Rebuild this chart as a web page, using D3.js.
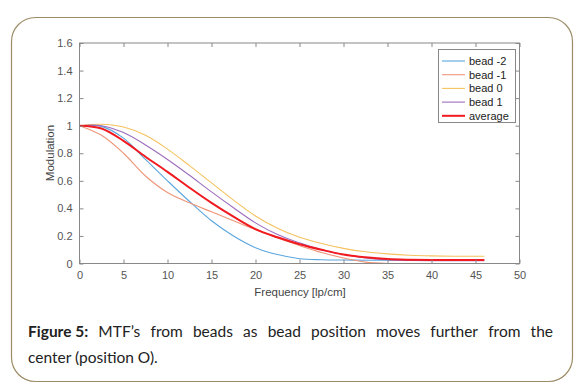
<!DOCTYPE html>
<html><head><meta charset="utf-8">
<script src="https://cdn.jsdelivr.net/npm/d3@7"></script>
<style>body{margin:0;background:#fff}svg{display:block}</style>
</head><body>
<svg id="c" width="584" height="391"></svg>
<script>
const freq = [0, 2.5, 5, 7.5, 10, 12.5, 15, 17.5, 20, 22.5, 25, 27.5, 30, 32.5, 35, 37.5, 40, 42.5, 45, 46];
const beadM2 = [1, 0.995, 0.91, 0.755, 0.60, 0.45, 0.31, 0.20, 0.115, 0.065, 0.035, 0.027, 0.025, 0.024, 0.024, 0.024, 0.024, 0.024, 0.024, 0.024];
const beadM1 = [1, 0.93, 0.80, 0.635, 0.515, 0.44, 0.375, 0.31, 0.245, 0.185, 0.13, 0.08, 0.04, 0.01, 0, 0, 0, 0, 0, 0];
const bead0 = [1, 1.01, 0.99, 0.93, 0.83, 0.71, 0.585, 0.46, 0.345, 0.255, 0.19, 0.145, 0.11, 0.085, 0.07, 0.06, 0.055, 0.053, 0.053, 0.053];
const bead1 = [1, 1.0, 0.95, 0.86, 0.755, 0.64, 0.52, 0.405, 0.295, 0.21, 0.15, 0.10, 0.065, 0.04, 0.027, 0.022, 0.02, 0.02, 0.02, 0.02];
const average = [1, 0.98, 0.89, 0.775, 0.665, 0.55, 0.44, 0.34, 0.25, 0.19, 0.14, 0.10, 0.065, 0.045, 0.032, 0.027, 0.025, 0.025, 0.025, 0.025];
const seriesNames = ["bead -2", "bead -1", "bead 0", "bead 1", "average"];
const xTicks = [0, 5, 10, 15, 20, 25, 30, 35, 40, 45, 50];
const yTicks = [0, 0.2, 0.4, 0.6, 0.8, 1, 1.2, 1.4, 1.6];
const captionBold = "Figure 5:";
const captionLine1 = "MTF’s from beads as bead position moves further from the";
const captionLine2 = "center (position O).";

const series = [
  {name: seriesNames[0], values: beadM2, color: "#5ba6de", w: 1.1},
  {name: seriesNames[1], values: beadM1, color: "#ee9578", w: 1.1},
  {name: seriesNames[2], values: bead0, color: "#f5c25e", w: 1.1},
  {name: seriesNames[3], values: bead1, color: "#9c6cbd", w: 1.1},
  {name: seriesNames[4], values: average, color: "#f01a20", w: 2}
];

const svg = d3.select("#c");
svg.append("rect").attr("x", 11.5).attr("y", 17.5).attr("width", 561).attr("height", 364)
  .attr("rx", 24).attr("fill", "none").attr("stroke", "#9c8c66").attr("stroke-width", 1.2);

const L = 79.5, R = 519.5, T = 43, B = 263.5;
const x = d3.scaleLinear().domain([0, 50]).range([L, R]);
const y = d3.scaleLinear().domain([0, 1.6]).range([B, T]);
const axCol = "#888";
const font = "Liberation Sans, Arial, sans-serif";

svg.append("defs").append("clipPath").attr("id", "clip")
  .append("rect").attr("x", L).attr("y", T).attr("width", R - L).attr("height", B - T);

const g = svg.append("g");
const line = d3.line().curve(d3.curveCatmullRom.alpha(0.5));
series.forEach(s => {
  g.append("path").attr("clip-path", "url(#clip)")
    .attr("d", line(freq.map((f, i) => [x(f), y(s.values[i])])))
    .attr("fill", "none").attr("stroke", s.color).attr("stroke-width", s.w);
});

function styleAxis(sel, labels) {
  sel.select(".domain").remove();
  sel.selectAll(".tick line").attr("stroke", axCol);
  sel.selectAll(".tick text").attr("fill", "#555").style("font-family", font).style("font-size", "11px");
  if (!labels) sel.selectAll(".tick text").remove();
}
svg.append("g").attr("transform", `translate(0,${B})`)
  .call(d3.axisBottom(x).tickValues(xTicks).tickSize(-4).tickPadding(8).tickFormat(d3.format("d")))
  .call(s => styleAxis(s, true));
svg.append("g").attr("transform", `translate(0,${T})`)
  .call(d3.axisTop(x).tickValues(xTicks).tickSize(-4).tickFormat(""))
  .call(s => styleAxis(s, false));
svg.append("g").attr("transform", `translate(${L},0)`)
  .call(d3.axisLeft(y).tickValues(yTicks).tickSize(-4).tickPadding(7).tickFormat(d => d3.format("")(+d.toFixed(1))))
  .call(s => styleAxis(s, true));
svg.append("g").attr("transform", `translate(${R},0)`)
  .call(d3.axisRight(y).tickValues(yTicks).tickSize(-4).tickFormat(""))
  .call(s => styleAxis(s, false));
svg.append("rect").attr("x", L).attr("y", T).attr("width", R - L).attr("height", B - T)
  .attr("fill", "none").attr("stroke", axCol).attr("stroke-width", 1);

svg.append("text").attr("x", (L + R) / 2 + 0.5).attr("y", 296).attr("text-anchor", "middle")
  .attr("fill", "#444").style("font-family", font).style("font-size", "11.5px").text("Frequency [lp/cm]");
svg.append("text").attr("transform", `translate(54,153) rotate(-90)`).attr("text-anchor", "middle")
  .attr("fill", "#444").style("font-family", font).style("font-size", "11.5px").text("Modulation");

const lg = svg.append("g");
lg.append("rect").attr("x", 438.5).attr("y", 49.5).attr("width", 77).attr("height", 73)
  .attr("fill", "#fff").attr("stroke", axCol);
series.forEach((s, i) => {
  const yy = 61 + i * 13.7;
  lg.append("line").attr("x1", 442).attr("x2", 465).attr("y1", yy).attr("y2", yy)
    .attr("stroke", s.color).attr("stroke-width", s.w);
  lg.append("text").attr("x", 469).attr("y", yy + 4).attr("fill", "#222")
    .style("font-family", font).style("font-size", "11px").text(s.name);
});

const capFont = "Lato, 'Open Sans', sans-serif";
const capSize = "15.5px";
const cx0 = 28, cx1 = 553;
const words1 = [{t: captionBold, b: true}].concat(captionLine1.split(" ").map(t => ({t, b: false})));
const cap = svg.append("g").style("font-family", capFont).style("font-size", capSize).attr("fill", "#222");
const nodes = words1.map(w => cap.append("text").attr("y", 337).attr("font-weight", w.b ? "bold" : "normal").text(w.t));
const widths = nodes.map(n => n.node().getComputedTextLength());
const total = d3.sum(widths);
const gap = (cx1 - cx0 - total) / (nodes.length - 1);
let cx = cx0;
nodes.forEach((n, i) => { n.attr("x", cx); cx += widths[i] + gap; });
cap.append("text").attr("x", cx0).attr("y", 363).text(captionLine2);
</script>
</body></html>
